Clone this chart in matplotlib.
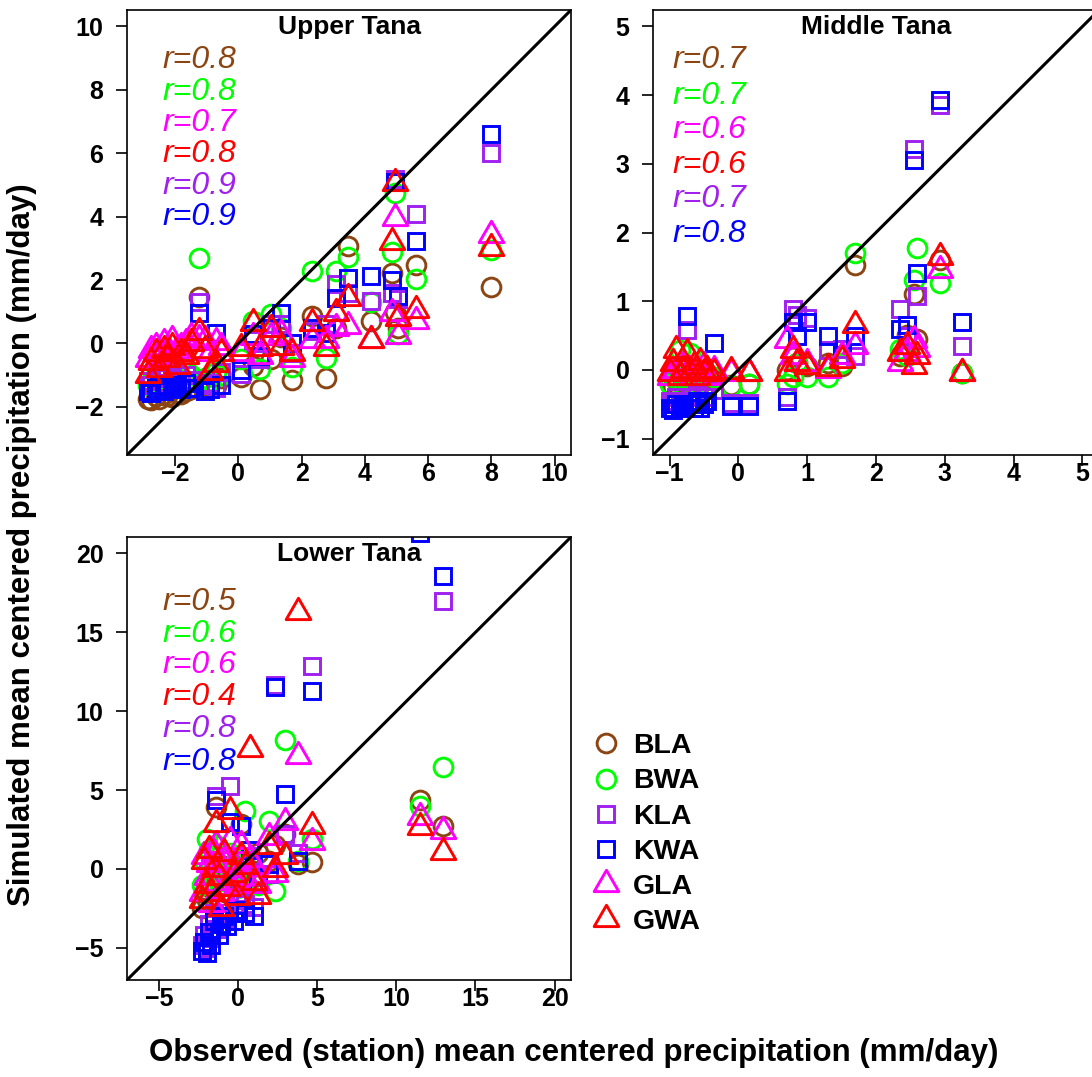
import matplotlib
matplotlib.use('Agg')
import matplotlib.pyplot as plt
from matplotlib.path import Path
from matplotlib.lines import Line2D
import numpy as np

plt.rcParams['font.family'] = ['Liberation Sans', 'DejaVu Sans']

series = ["BLA", "BWA", "KLA", "KWA", "GLA", "GWA"]
colors = ["#8B4513", "#00FF00", "#A020F0", "#0000FF", "#FF00FF", "#FF0000"]
r_order = ["BLA", "BWA", "GLA", "GWA", "KLA", "KWA"]   # order of the r= lines

# ---------------- Upper Tana ----------------
x_upper = [-2.85, -2.75, -2.6, -2.5, -2.35, -2.25, -2.1, -1.95, -1.8, -1.65, -1.5, -1.25, -1.05, -0.9, -0.7, -0.55,
           0.1, 0.47, 0.67, 1.02, 1.34, 1.7, 2.33, 2.78, 3.1, 3.46, 4.18, 4.85, 4.95, 5.05, 5.63, 8.0]
upper = {
    "BLA": [-1.75, -1.8, -1.65, -1.75, -1.6, -1.65, -1.7, -1.55, -1.6, -1.5, -1.45, 1.45, -1.3, -1.2, -1.35, -1.1,
            -1.05, -0.7, -1.45, -0.5, 0.2, -1.14, 0.85, -1.1, 0.5, 3.07, 0.7, 2.22, 1.0, 0.5, 2.49, 1.77],
    "BWA": [-1.3, -1.2, -1.0, -1.4, -1.1, -0.9, -1.2, -1.0, -1.15, -0.8, -1.0, 2.7, -1.1, -1.2, -0.9, -1.0,
            -0.5, 0.7, -0.82, 0.92, 0.5, -0.73, 2.28, -0.46, 2.28, 2.72, 1.3, 2.9, 4.75, 0.3, 2.02, 2.95],
    "KLA": [-1.2, -1.3, -1.1, -1.0, -1.25, -1.05, -1.1, -0.95, -1.2, -1.0, -1.15, 1.3, -1.3, -1.25, -1.4, -0.9,
            -0.95, 0.1, -0.5, 0.6, 0.6, -0.3, 0.38, 0.6, 1.86, 1.6, 1.33, 1.6, 5.2, 1.4, 4.08, 6.0],
    "KWA": [-1.5, -1.55, -1.4, -1.3, -1.5, -1.35, -1.4, -1.3, -1.45, -1.25, -1.4, 0.95, -1.5, -1.45, 0.33, -1.3,
            -0.85, 0.3, -0.4, 0.5, 0.96, 0.0, 0.5, 0.33, 1.43, 2.07, 2.12, 2.0, 5.1, 1.5, 3.23, 6.6],
    "GLA": [-0.5, -0.2, -0.1, -0.4, 0.0, -0.3, 0.1, -0.2, -0.1, 0.0, 0.2, 0.15, 0.1, -0.3, 0.05, -0.1,
            -0.3, 0.2, -0.4, 0.2, 0.3, -0.5, 0.12, 0.1, 0.5, 0.54, 0.1, 0.96, 3.96, 0.22, 0.7, 3.42],
    "GWA": [-1.0, -0.6, -0.3, -0.8, -0.2, -0.5, -0.1, -0.7, -0.3, -0.4, 0.0, 0.35, -0.2, -0.9, -0.65, -0.3,
            -0.15, 0.64, -0.15, 0.44, -0.1, -0.3, 0.64, -0.15, 0.96, 1.43, 0.12, 3.2, 5.05, 0.8, 1.07, 3.0],
}
r_upper = ["0.8", "0.8", "0.7", "0.8", "0.9", "0.9"]

# ---------------- Middle Tana ----------------
x_middle = [-1.0, -0.95, -0.9, -0.85, -0.8, -0.75, -0.7, -0.65, -0.6, -0.55, -0.5, -0.45, -0.35, -0.1, 0.15,
            0.7, 0.8, 0.85, 1.0, 1.3, 1.5, 1.7, 2.35, 2.45, 2.55, 2.6, 2.93, 3.25]
middle = {
    "BLA": [-0.2, -0.25, -0.15, -0.3, -0.2, -0.25, -0.15, -0.2, -0.1, -0.2, -0.15, -0.1, -0.15, -0.22, -0.2,
            0.0, 0.19, 0.1, 0.05, 0.1, 0.05, 1.52, 0.2, 0.51, 1.1, 0.45, 1.6, -0.05],
    "BWA": [-0.2, -0.1, 0.0, 0.29, -0.1, -0.15, 0.25, -0.05, -0.2, -0.1, 0.0, -0.15, -0.1, -0.24, -0.2,
            -0.2, -0.1, 0.1, -0.1, -0.1, 0.1, 1.7, 0.3, 0.2, 1.31, 1.78, 1.27, -0.05],
    "KLA": [-0.45, -0.5, -0.4, -0.5, -0.45, 0.58, -0.4, -0.45, -0.35, -0.5, -0.4, -0.4, -0.3, -0.49, -0.49,
            -0.39, 0.88, 0.8, 0.75, 0.29, 0.3, 0.2, 0.88, 0.5, 3.22, 1.07, 3.85, 0.34],
    "KWA": [-0.55, -0.58, -0.5, -0.55, -0.52, 0.79, -0.5, -0.55, -0.45, -0.55, -0.5, -0.45, 0.39, -0.52, -0.52,
            -0.45, 0.7, 0.5, 0.7, 0.49, 0.22, 0.5, 0.6, 0.66, 3.05, 1.41, 3.93, 0.69],
    "GLA": [-0.1, -0.05, 0.0, -0.1, 0.05, -0.05, 0.0, -0.1, 0.0, -0.05, 0.05, -0.1, 0.0, -0.05, -0.05,
            0.44, 0.2, 0.1, 0.1, 0.0, 0.2, 0.34, 0.1, 0.25, 0.44, 0.3, 1.45, -0.05],
    "GWA": [-0.05, 0.1, 0.29, -0.1, 0.0, 0.24, -0.05, 0.05, -0.1, 0.12, -0.05, 0.0, -0.05, -0.02, -0.05,
            -0.05, 0.29, 0.1, 0.05, 0.03, 0.15, 0.66, 0.24, 0.34, 0.05, 0.2, 1.65, -0.05],
}
r_middle = ["0.7", "0.7", "0.6", "0.6", "0.7", "0.8"]

# ---------------- Lower Tana ----------------
x_lower = [-2.3, -2.15, -2.0, -1.85, -1.7, -1.55, -1.4, -1.25, -1.1, -0.9, -0.7, -0.5, -0.3, -0.1, 0.2,
           0.45, 0.75, 1.0, 1.27, 1.91, 2.34, 2.97, 3.8, 4.67, 11.5, 12.95]
lower = {
    "BLA": [-2.5, -1.5, -2.0, -0.8, -1.2, 0.5, 3.9, -0.5, -1.0, 0.2, -1.5, -0.8, 0.0, -0.5, 2.85,
            -1.0, 0.3, -0.5, 1.0, 0.5, 1.5, 2.2, 0.3, 0.44, 4.35, 2.7],
    "BWA": [-1.0, 0.5, 1.9, 1.2, 0.3, -0.5, 1.5, 0.8, -0.2, 0.5, -0.8, 1.0, 0.2, -1.2, 0.4,
            3.7, 0.6, -0.5, -1.05, 3.06, -1.37, 8.2, 0.5, 1.9, 4.0, 6.45],
    "KLA": [-4.8, -4.2, -5.0, -3.5, -4.4, -2.8, 4.64, -3.8, -3.0, -2.5, -3.2, 5.27, -2.8, -2.0, -1.5,
            -2.2, 0.8, -2.4, -0.5, -0.3, 11.65, 2.2, 1.0, 12.85, 23.0, 17.0],
    "KWA": [-5.2, -4.6, -5.3, -4.0, -4.8, -3.3, 4.4, -4.2, -3.5, -3.0, -3.6, 3.0, -3.3, -2.6, 2.74,
            -2.8, 1.2, -3.0, -0.8, 0.3, 11.55, 4.75, 0.5, 11.3, 21.3, 18.56],
    "GLA": [-1.5, 0.8, -0.5, 0.3, -2.2, 1.0, 1.5, 0.0, -1.5, 0.5, -0.8, 1.8, 0.3, -1.0, 1.5,
            -0.5, 0.6, 0.2, -1.0, 2.0, -0.3, 2.97, 7.17, 1.69, 3.3, 2.42],
    "GWA": [-2.0, 0.5, -1.0, 1.2, -1.5, 0.0, 2.85, -0.5, -2.5, 1.0, -1.2, 3.7, -0.3, -1.8, 0.8,
            0.2, 7.6, -0.8, -1.69, 1.48, 0.0, 0.84, 16.3, 2.74, 2.65, 1.07],
}
r_lower = ["0.5", "0.6", "0.6", "0.4", "0.8", "0.8"]

# R-like markers: open circle, open square, equilateral triangle
tri = Path([(-1, -0.577), (1, -0.577), (0, 1.155), (-1, -0.577)],
           [Path.MOVETO, Path.LINETO, Path.LINETO, Path.CLOSEPOLY])
mk = {"BLA": ("o", 13.5), "BWA": ("o", 13.5), "KLA": ("s", 11.5), "KWA": ("s", 11.5),
      "GLA": (tri, 20.5), "GWA": (tri, 20.5)}
col = dict(zip(series, colors))

fig = plt.figure(figsize=(10.92, 10.77), dpi=100)
W, H = 1092, 1077


def panel(left, top, w, h, xs, data, rvals, title, lim, ticks, rx, ry):
    ax = fig.add_axes([left / W, 1 - (top + h) / H, w / W, h / H])
    for s in series:
        m, ms = mk[s]
        ax.plot(xs, data[s], linestyle='none', marker=m, markersize=ms,
                markerfacecolor='none', markeredgecolor=col[s], markeredgewidth=2.1)
    ax.axline((0, 0), slope=1, color='black', lw=2.2)
    pad = (lim[1] - lim[0]) * 0.04
    ax.set_xlim(lim[0] - pad, lim[1] + pad)
    ax.set_ylim(lim[0] - pad, lim[1] + pad)
    ax.set_xticks(ticks)
    ax.set_yticks(ticks)
    ax.set_xticklabels([str(t).replace('-', '\u2212') for t in ticks])
    ax.set_yticklabels([str(t).replace('-', '\u2212') for t in ticks])
    ax.tick_params(length=8, width=1.2, labelsize=18)
    ax.tick_params(axis='x', pad=-3)
    ax.tick_params(axis='y', pad=9)
    for lab in ax.get_xticklabels() + ax.get_yticklabels():
        lab.set_fontweight('bold')
    for sp in ax.spines.values():
        sp.set_linewidth(1.2)
    ax.text(0.5, 0.962, title, transform=ax.transAxes, ha='center', va='center',
            fontsize=19, fontweight='bold')
    for i, (s, r) in enumerate(zip(r_order, rvals)):
        ax.text(rx, ry[i], "r=" + r, transform=ax.transAxes, ha='left', va='center',
                fontsize=23, fontstyle='italic', color=col[s])
    return ax


panel(127, 10, 444, 445, x_upper, upper, r_upper, "Upper Tana", (-3, 10),
      [-2, 0, 2, 4, 6, 8, 10], 0.079, [0.888, 0.816, 0.746, 0.676, 0.604, 0.535])
panel(653, 10, 446, 445, x_middle, middle, r_middle, "Middle Tana", (-1, 5),
      [-1, 0, 1, 2, 3, 4, 5], 0.043, [0.888, 0.807, 0.730, 0.652, 0.575, 0.497])
panel(127, 537, 444, 443, x_lower, lower, r_lower, "Lower Tana", (-6, 20),
      [-5, 0, 5, 10, 15, 20], 0.079, [0.853, 0.781, 0.711, 0.639, 0.567, 0.492])

handles = [Line2D([], [], linestyle='none', marker=mk[s][0], markersize=mk[s][1],
                  markerfacecolor='none', markeredgecolor=col[s], markeredgewidth=2.1)
           for s in series]
leg = fig.legend(handles, series, loc='upper left', bbox_to_anchor=(583 / W, 1 - 722 / H),
                 frameon=False, prop={'size': 20.5, 'weight': 'bold'},
                 handlelength=0.85, handletextpad=0.5, labelspacing=0.32, borderaxespad=0)

fig.text(22 / W, 1 - 545 / H, "Simulated mean centered precipitation (mm/day)", rotation=90,
         ha='center', va='center', fontsize=22.5, fontweight='bold')
fig.text(574 / W, 1 - 1053 / H, "Observed (station) mean centered precipitation (mm/day)",
         ha='center', va='center', fontsize=22.5, fontweight='bold')

fig.savefig("out.png", dpi=100)
